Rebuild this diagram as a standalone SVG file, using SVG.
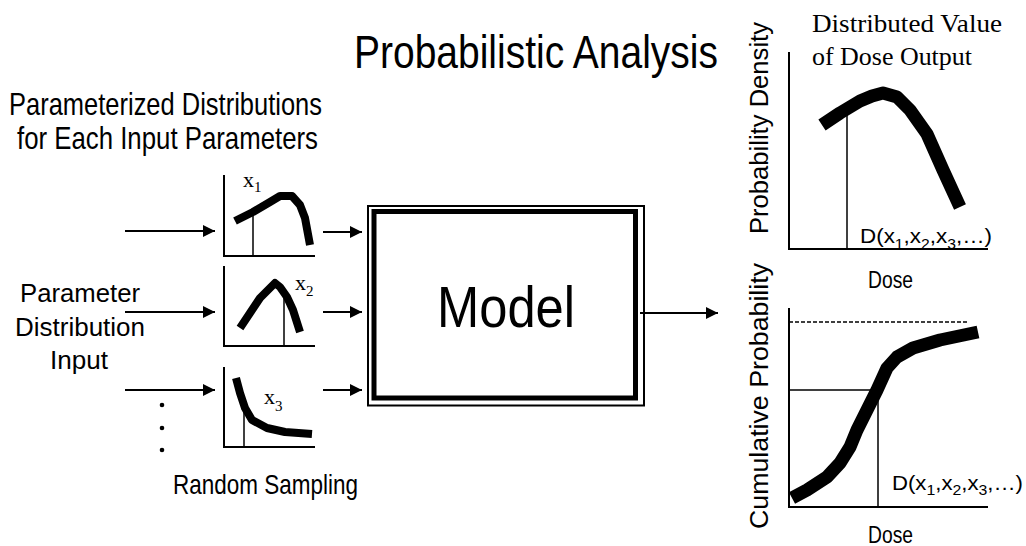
<svg xmlns="http://www.w3.org/2000/svg" width="1026" height="546" viewBox="0 0 1026 546">
<defs>
<marker id="ah" markerWidth="12" markerHeight="12" refX="12" refY="6" orient="auto" markerUnits="userSpaceOnUse">
<path d="M0,0 L12,6 L0,12 Z" fill="#000"/>
</marker>
<style>
.sans{font-family:"Liberation Sans",Arial,sans-serif;fill:#000}
.serif{font-family:"Liberation Serif","Times New Roman",serif;fill:#000}
.axis{fill:none;stroke:#000;stroke-width:2}
.thin{fill:none;stroke:#000;stroke-width:1.5}
.curve{fill:none;stroke:#000;stroke-width:8;stroke-linejoin:round;stroke-linecap:butt}
.bigcurve{fill:none;stroke:#000;stroke-width:13;stroke-linejoin:round;stroke-linecap:butt}
.arrow{fill:none;stroke:#000;stroke-width:2;marker-end:url(#ah)}
</style>
</defs>
<rect width="1026" height="546" fill="#fff"/>

<g id="title">
<text class="sans" x="354" y="68" font-size="46" textLength="364" lengthAdjust="spacingAndGlyphs">Probabilistic Analysis</text>
</g>

<g id="input-heading">
<text class="sans" x="9" y="115" font-size="32" textLength="313" lengthAdjust="spacingAndGlyphs">Parameterized Distributions</text>
<text class="sans" x="17" y="149" font-size="32" textLength="301" lengthAdjust="spacingAndGlyphs">for Each Input Parameters</text>
</g>

<g id="param-input-label">
<text class="sans" x="20" y="302" font-size="25" textLength="120" lengthAdjust="spacingAndGlyphs">Parameter</text>
<text class="sans" x="15" y="336" font-size="25" textLength="130" lengthAdjust="spacingAndGlyphs">Distribution</text>
<text class="sans" x="50" y="369" font-size="25" textLength="58" lengthAdjust="spacingAndGlyphs">Input</text>
<circle cx="162" cy="405" r="2.3" fill="#000"/>
<circle cx="162" cy="428" r="2.3" fill="#000"/>
<circle cx="162" cy="450" r="2.3" fill="#000"/>
</g>

<g id="random-sampling">
<text class="sans" x="173" y="494" font-size="28" textLength="185" lengthAdjust="spacingAndGlyphs">Random Sampling</text>
</g>

<g id="dist1">
<polyline class="axis" points="224,175 224,256 315,256"/>
<line class="thin" x1="253" y1="212" x2="253" y2="256"/>
<polyline class="curve" points="235,221 253,212 270,202 280,196 292,196 300,205 305,218 310,245"/>
<text class="serif" x="243" y="187" font-size="22">x<tspan font-size="15" dy="5">1</tspan></text>
</g>

<g id="dist2">
<polyline class="axis" points="224,266 224,346 315,346"/>
<line class="thin" x1="284" y1="292" x2="284" y2="346"/>
<polyline class="curve" points="240,328 250,313 260,298 268,290 275,283 280,287 287,297 293,310 300,332"/>
<text class="serif" x="295" y="290" font-size="22">x<tspan font-size="15" dy="6">2</tspan></text>
</g>

<g id="dist3">
<polyline class="axis" points="224,367 224,447 315,447"/>
<line class="thin" x1="244" y1="405" x2="244" y2="447"/>
<polyline class="curve" points="236,378 240,393 245,408 252,420 267,428 285,432 312,434"/>
<text class="serif" x="264" y="404" font-size="22">x<tspan font-size="15" dy="7">3</tspan></text>
</g>

<g id="model">
<rect x="368" y="206" width="276" height="199.5" fill="none" stroke="#000" stroke-width="2"/>
<rect x="374" y="211.5" width="261.5" height="186.5" fill="#fff" stroke="#000" stroke-width="5"/>
<text class="sans" x="437" y="327" font-size="58" textLength="138" lengthAdjust="spacingAndGlyphs">Model</text>
</g>

<g id="pdf-output">
<text class="serif" x="812" y="32" font-size="26" textLength="190" lengthAdjust="spacingAndGlyphs">Distributed Value</text>
<text class="serif" x="812" y="65" font-size="26" textLength="160" lengthAdjust="spacingAndGlyphs">of Dose Output</text>
<text class="sans" transform="translate(768,234) rotate(-90)" font-size="26" textLength="212" lengthAdjust="spacingAndGlyphs">Probability Density</text>
<polyline class="axis" points="789,52 789,249 988,249"/>
<line class="thin" x1="847" y1="112" x2="847" y2="249"/>
<polyline class="bigcurve" points="822,125 840,113 860,101 872,96 883,93 897,97 910,110 927,134 943,170 960,207"/>
<text class="sans" x="860" y="243" font-size="20" textLength="132" lengthAdjust="spacingAndGlyphs">D(x<tspan font-size="14" dy="6">1</tspan><tspan dy="-6">,x</tspan><tspan font-size="14" dy="6">2</tspan><tspan dy="-6">,x</tspan><tspan font-size="14" dy="6">3</tspan><tspan dy="-6">,…)</tspan></text>
<text class="sans" x="868" y="288" font-size="23" textLength="45" lengthAdjust="spacingAndGlyphs">Dose</text>
</g>

<g id="cdf-output">
<text class="sans" transform="translate(768,529) rotate(-90)" font-size="26" textLength="266" lengthAdjust="spacingAndGlyphs">Cumulative Probability</text>
<polyline class="axis" points="789,308 789,507 988,507"/>
<line x1="789" y1="322" x2="967" y2="322" stroke="#000" stroke-width="1.5" stroke-dasharray="4,2"/>
<polyline class="thin" points="789,390 878,390 878,507"/>
<polyline class="bigcurve" points="792,498 807,490 827,477 840,463 850,447 857,430 867,410 877,390 887,368 897,357 913,348 940,340 978,332"/>
<text class="sans" x="892" y="490" font-size="21" textLength="131" lengthAdjust="spacingAndGlyphs">D(x<tspan font-size="15" dy="5">1</tspan><tspan dy="-5">,x</tspan><tspan font-size="15" dy="5">2</tspan><tspan dy="-5">,x</tspan><tspan font-size="15" dy="5">3</tspan><tspan dy="-5">,…)</tspan></text>
<text class="sans" x="868" y="543" font-size="23" textLength="45" lengthAdjust="spacingAndGlyphs">Dose</text>
</g>

<g id="connectors">
<line class="arrow" x1="125" y1="231" x2="215" y2="231"/>
<line class="arrow" x1="125" y1="312" x2="215" y2="312"/>
<line class="arrow" x1="125" y1="390" x2="215" y2="390"/>
<line class="arrow" x1="323" y1="232" x2="362" y2="232"/>
<line class="arrow" x1="323" y1="312" x2="362" y2="312"/>
<line class="arrow" x1="323" y1="390" x2="362" y2="390"/>
<line class="arrow" x1="640" y1="313" x2="718" y2="313"/>
</g>
</svg>
